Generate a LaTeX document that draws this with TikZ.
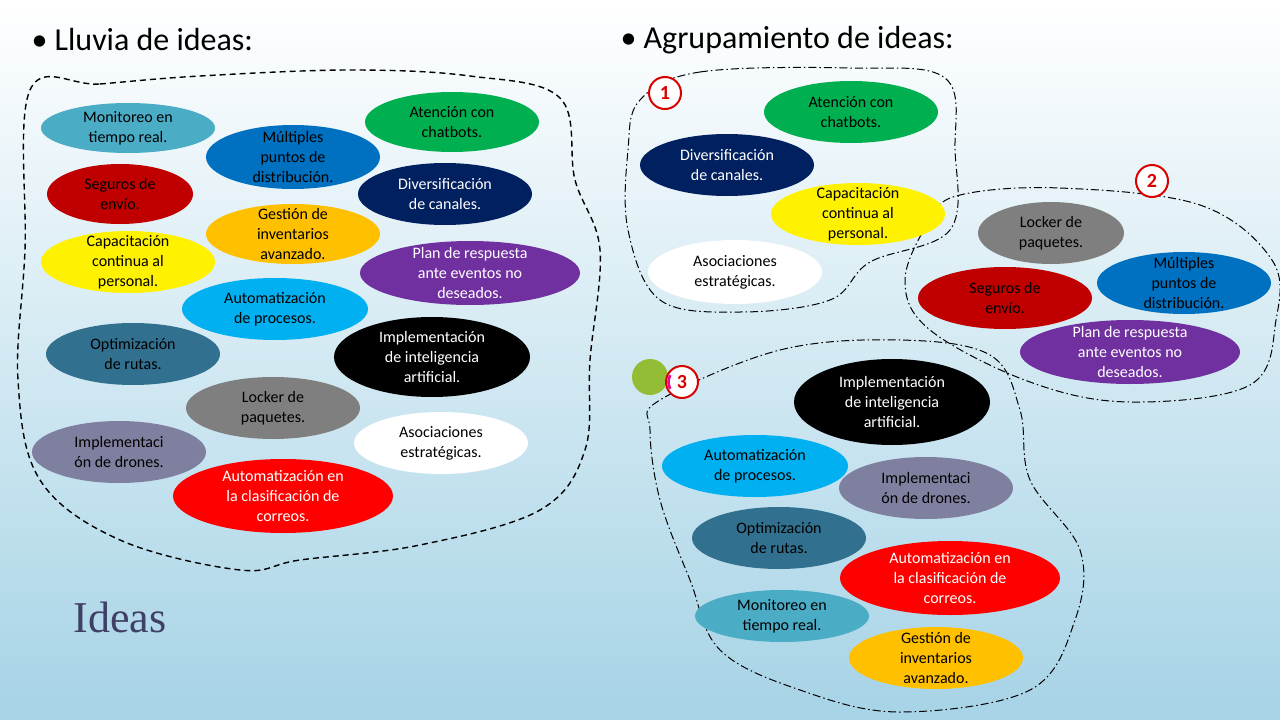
\documentclass[tikz,border=0pt]{standalone}
\usepackage{fontspec}
\setmainfont{Carlito}
\newfontfamily\serifIdeas{Liberation Serif}
\definecolor{bgb}{HTML}{A6D3E6}
\definecolor{cTeal}{HTML}{4BACC6}
\definecolor{cBlue}{HTML}{0070C0}
\definecolor{cGreen}{HTML}{00B050}
\definecolor{cDRed}{HTML}{C00000}
\definecolor{cNavy}{HTML}{002060}
\definecolor{cOrange}{HTML}{FFC000}
\definecolor{cPurple}{HTML}{7030A0}
\definecolor{cLBlue}{HTML}{00B0F0}
\definecolor{cDTeal}{HTML}{31708F}
\definecolor{cGray}{HTML}{7F7F7F}
\definecolor{cDrone}{HTML}{7F7F9F}
\begin{document}
\begin{tikzpicture}[x=1pt,y=-1pt,
  idea/.style={inner sep=0pt,align=center,font=\fontsize{16}{20}\selectfont},
  num/.style={circle,draw=red!85!black,line width=2pt,fill=white,minimum size=32pt,inner sep=0pt,text=red!85!black,font=\fontsize{20}{20}\selectfont\bfseries},
  blob/.style={line width=1.4pt,dash pattern=on 6pt off 4pt},
  grp/.style={line width=1pt,dash pattern=on 8pt off 3pt on 1.5pt off 3pt}]
\shade[top color=white,bottom color=bgb] (0,0) rectangle (1280,720);
\useasboundingbox (0,0) rectangle (1280,720);
\newcommand{\E}[8]{\fill[#6] (#2,#3) ellipse [x radius=#4,y radius=#5];
  \node[idea,text=#7] (#1) at (#2,#3) {#8};}
% titles
\node[anchor=west,font=\fontsize{32}{34}\selectfont] (t1) at (28,40) {\textbullet\ Lluvia de ideas:};
\node[anchor=west,font=\fontsize{32}{34}\selectfont] (t2) at (617,40) {\textbullet\ Agrupamiento de ideas:};
\node[anchor=west,font=\serifIdeas\fontsize{44}{46}\selectfont,text=black!70!blue!50!gray] (t3) at (70,617) {Ideas};
% left blob
\draw[blob] plot[smooth cycle,tension=0.6] coordinates {(30,90) (100,84) (200,76) (350,70) (470,76) (560,98) (575,180) (600,250) (590,360) (585,450) (540,510) (420,545) (300,560) (240,570) (120,540) (40,480) (18,380) (25,250)};
\E{a1}{128}{128}{87}{25}{cTeal}{black}{Monitoreo en\\tiempo real.}
\E{a2}{293}{157}{87}{32}{cBlue}{black}{Múltiples\\puntos de\\distribución.}
\E{a3}{452}{122}{87}{30}{cGreen}{black}{Atención con\\chatbots.}
\E{a4}{120}{194}{73}{30}{cDRed}{black}{Seguros de\\envío.}
\E{a5}{445}{194}{87}{31}{cNavy}{white}{Diversificación\\de canales.}
\E{a6}{293}{234}{87}{30}{cOrange}{black}{Gestión de\\inventarios\\avanzado.}
\E{a7}{128}{262}{87}{31}{yellow}{black}{Capacitación\\continua al\\personal.}
\E{a8}{470}{273}{110}{32}{cPurple}{white}{Plan de respuesta\\ante eventos no\\deseados.}
\E{a9}{275}{309}{93}{31}{cLBlue}{black}{Automatización\\de procesos.}
\E{a10}{133}{354}{87}{31}{cDTeal}{black}{Optimización\\de rutas.}
\E{a11}{432}{357}{98}{40}{black}{white}{Implementación\\de inteligencia\\artificial.}
\E{a12}{273}{408}{87}{31}{cGray}{black}{Locker de\\paquetes.}
\E{a13}{441}{443}{87}{31}{white}{black}{Asociaciones\\estratégicas.}
\E{a14}{119}{452}{87}{31}{cDrone}{black}{Implementaci\\ón de drones.}
\E{a15}{283}{496}{110}{37}{red}{white}{Automatización en\\la clasificación de\\correos.}
% groups
\draw[grp] plot[smooth cycle,tension=0.6] coordinates {(640,100) (700,72) (850,68) (945,78) (955,150) (950,230) (870,262) (830,300) (740,312) (660,300) (628,230) (628,150)};
\draw[grp] plot[smooth cycle,tension=0.6] coordinates {(960,195) (1060,188) (1200,205) (1272,260) (1276,320) (1250,385) (1130,402) (1030,382) (930,330) (905,280) (930,220)};
\draw[grp] plot[smooth cycle,tension=0.6] coordinates {(660,400) (780,350) (900,340) (990,355) (1020,410) (1030,480) (1080,550) (1075,620) (1030,690) (900,712) (800,690) (720,650) (690,580) (660,500) (650,430)};
\E{b1}{851}{112}{87}{31}{cGreen}{black}{Atención con\\chatbots.}
\E{b2}{727}{165}{87}{31}{cNavy}{white}{Diversificación\\de canales.}
\E{b3}{858}{214}{87}{31}{yellow}{black}{Capacitación\\continua al\\personal.}
\E{b4}{735}{272}{87}{32}{white}{black}{Asociaciones\\estratégicas.}
\E{c1}{1051}{233}{73}{31}{cGray}{black}{Locker de\\paquetes.}
\E{c2}{1184}{283}{87}{31}{cBlue}{black}{Múltiples\\puntos de\\distribución.}
\E{c3}{1005}{298}{87}{31}{cDRed}{black}{Seguros de\\envío.}
\E{c4}{1130}{352}{110}{32}{cPurple}{white}{Plan de respuesta\\ante eventos no\\deseados.}
\E{d1}{892}{402}{98}{43}{black}{white}{Implementación\\de inteligencia\\artificial.}
\E{d2}{755}{466}{93}{31}{cLBlue}{black}{Automatización\\de procesos.}
\E{d3}{926}{488}{87}{31}{cDrone}{black}{Implementaci\\ón de drones.}
\E{d4}{779}{538}{87}{31}{cDTeal}{black}{Optimización\\de rutas.}
\E{d5}{950}{578}{110}{37}{red}{white}{Automatización en\\la clasificación de\\correos.}
\E{d6}{782}{616}{87}{26}{cTeal}{black}{Monitoreo en\\tiempo real.}
\E{d7}{936}{658}{87}{31}{cOrange}{black}{Gestión de\\inventarios\\avanzado.}
% numbers
\fill[yellow!60!green!85!black] (650,377) circle (18);
\node[num] (n1) at (665,93) {1};
\node[num] (n2) at (1152,181) {2};
\node[num] (n3) at (682,382) {3};
\draw[magenta,line width=2.5pt] (n3) ++(150:13.5) arc (150:210:13.5);
\end{tikzpicture}
\end{document}
